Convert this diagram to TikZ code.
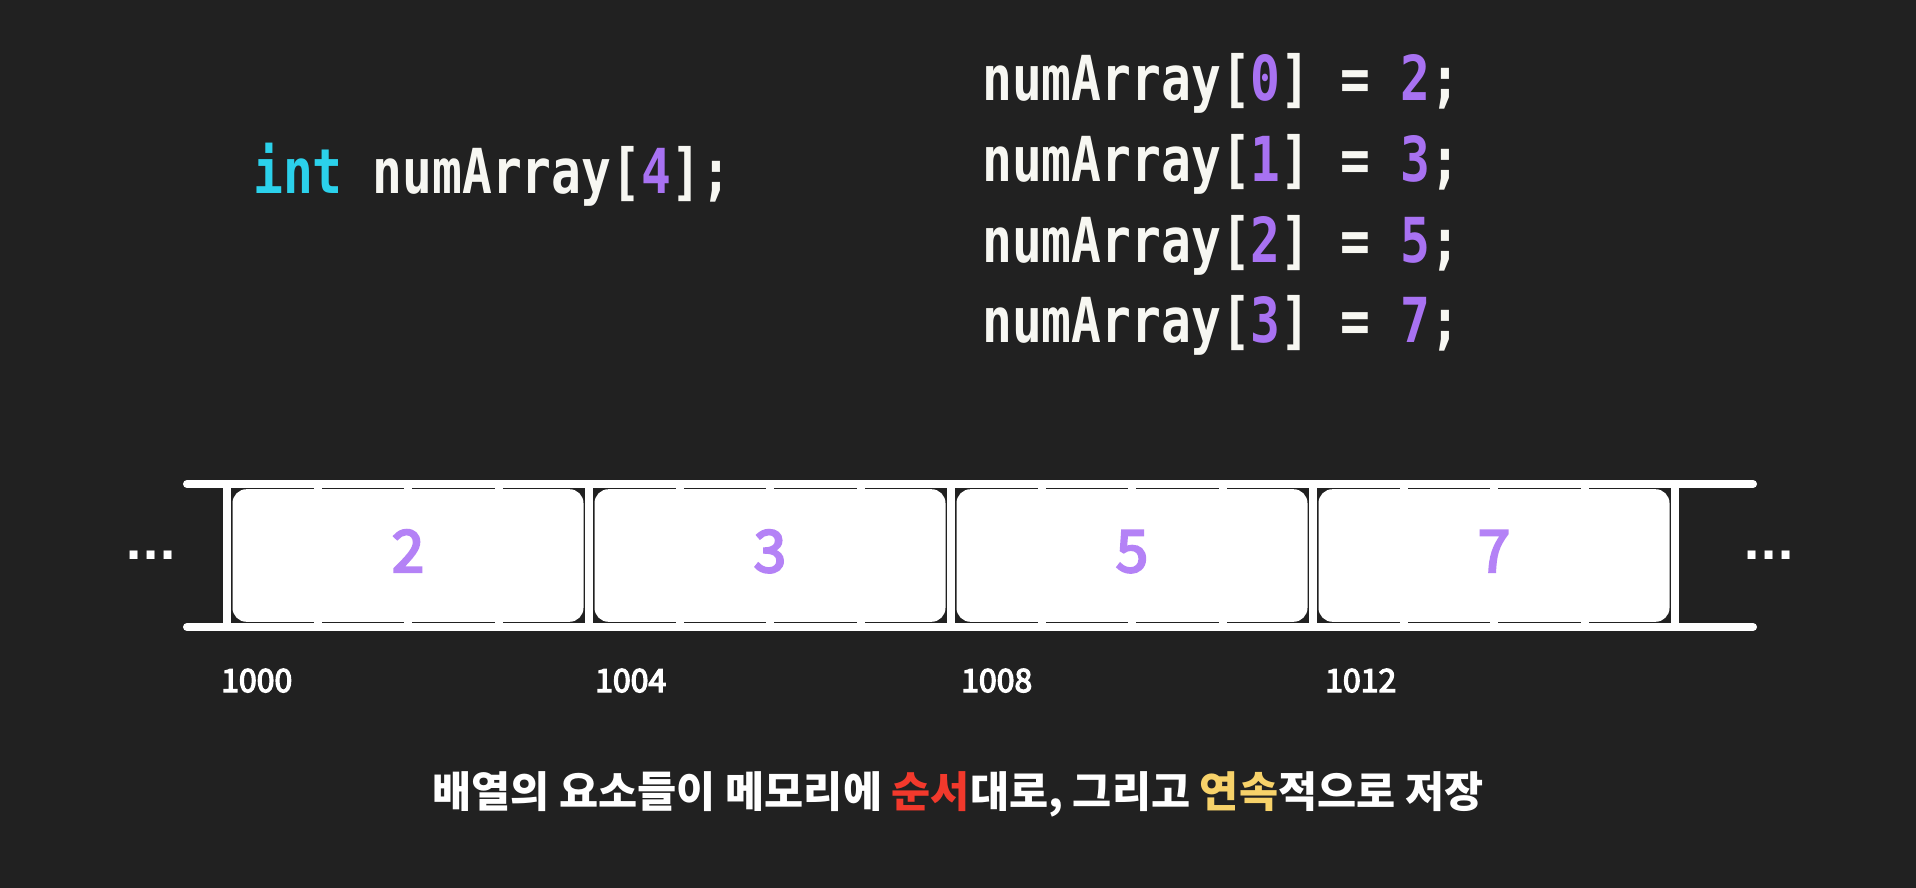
\documentclass[tikz,border=0pt]{standalone}
\usepackage{fontspec}
\setmainfont{Noto Sans CJK KR}
\newfontfamily\medfont[FakeBold=4]{Noto Sans CJK KR}
\newfontfamily\codefont[FakeStretch=0.8]{DejaVu Sans Mono}
\newfontfamily\dotfont{DejaVu Sans}
\definecolor{bgdark}{HTML}{212121}
\definecolor{codewhite}{HTML}{F7F7F2}
\definecolor{kwcyan}{HTML}{2BD1EB}
\definecolor{codepurple}{HTML}{A872F2}
\definecolor{cellpurple}{HTML}{B482F6}
\definecolor{seqred}{HTML}{F2392C}
\definecolor{contyellow}{HTML}{F7D26A}
\begin{document}
\begin{tikzpicture}[x=1pt,y=-1pt,
    code/.style={anchor=base west,inner sep=0pt,text=codewhite,font=\codefont\bfseries\fontsize{62}{70}\selectfont},
    cellval/.style={anchor=base,inner sep=0pt,text=cellpurple,font=\medfont\fontsize{58}{64}\selectfont},
    addr/.style={anchor=base west,inner sep=0pt,text=white,font=\medfont\fontsize{32}{38}\selectfont},
    ellip/.style={anchor=base west,inner sep=0pt,text=white,font=\dotfont\bfseries\fontsize{45}{50}\selectfont},
    rail/.style={white,line width=8pt}]
\fill[bgdark] (0,0) rectangle (1916,888);
\useasboundingbox (0,0) rectangle (1916,888);
% declaration and assignments
\node[code] (decl) at (253,193) {\textcolor{kwcyan}{int} numArray[\textcolor{codepurple}{4}];};
\foreach \i/\v in {0/2,1/3,2/5,3/7}
    \node[code] (assign\i) at (982,{101+80.5*\i}) {numArray[\textcolor{codepurple}{\i}] = \textcolor{codepurple}{\v};};
% memory strip
\draw[rail,line cap=round] (187,484) -- (1753,484);
\draw[rail,line cap=round] (187,627) -- (1753,627);
\foreach \k in {0,...,4}
    \draw[rail] ({227+362*\k},484) -- ({227+362*\k},627);
\foreach \k in {0,...,3}
    \fill[white,rounded corners=14pt] ({232.5+362*\k},489.2) rectangle ({583.5+362*\k},621.8);
% byte dividers
\foreach \j in {1,2,3,5,6,7,9,10,11,13,14,15}
    \draw[rail] ({227+90.5*\j},484) -- ({227+90.5*\j},627);
\foreach \k/\v in {0/2,1/3,2/5,3/7}
    \node[cellval] (val\k) at ({408+362*\k},572) {\v};
\foreach \k/\a/\x in {0/1000/221,1/1004/595,2/1008/961,3/1012/1325}
    \node[addr] (addr\k) at (\x,692) {\a};
\node[ellip] (dotsL) at (125,559) {...};
\node[ellip] (dotsR) at (1743,559) {...};
% caption
\node[anchor=base,inner sep=0pt,text=white,font=\bfseries\fontsize{42.5}{48}\selectfont] (caption) at (958,807)
    {배열의 요소들이 메모리에 \textcolor{seqred}{순서}대로, 그리고 \textcolor{contyellow}{연속}적으로 저장};
\end{tikzpicture}
\end{document}
